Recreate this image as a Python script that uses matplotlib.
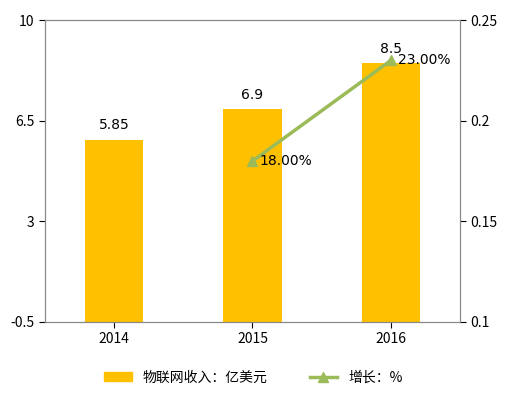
import matplotlib
matplotlib.use("Agg")
import matplotlib.pyplot as plt
plt.rcParams['font.family'] = ['Noto Sans CJK SC', 'DejaVu Sans']

years = ['2014', '2015', '2016']
revenue = [5.85, 6.9, 8.5]
growth_years = [1, 2]
growth = [0.18, 0.23]
growth_labels = ['18.00%', '23.00%']
baseline = -0.5

fig = plt.figure(figsize=(5.07, 4.05), dpi=100)
ax = fig.add_axes([0.089, 0.205, 0.818, 0.745])
x = range(len(years))
ax.bar(x, [v - baseline for v in revenue], bottom=baseline, width=0.42, color='#FFC000', zorder=2)
ax.set_ylim(-0.5, 10)
ax.set_yticks([-0.5, 3, 6.5, 10])
ax.set_yticklabels(['-0.5', '3', '6.5', '10'])
ax.set_xlim(-0.5, 2.5)
ax.set_xticks(list(x))
ax.set_xticklabels(years)
for i, v in enumerate(revenue):
    ax.text(i, v + 0.25, f'{v:g}', ha='center', va='bottom', fontsize=10, family='DejaVu Sans')
ax2 = ax.twinx()
ax2.plot(growth_years, growth, color='#9BBB59', lw=2.5, marker='^', ms=7, label='增长：%')
ax2.set_ylim(0.1, 0.25)
ax2.set_yticks([0.1, 0.15, 0.2, 0.25])
ax2.set_yticklabels(['0.1', '0.15', '0.2', '0.25'])
for xi, g, l in zip(growth_years, growth, growth_labels):
    ax2.text(xi + 0.05, g, l, ha='left', va='center', fontsize=10, family='DejaVu Sans')
for a in (ax, ax2):
    a.tick_params(labelsize=10, length=4, direction='out')
    for s in a.spines.values():
        s.set_color('#888888')
from matplotlib.patches import Patch
from matplotlib.lines import Line2D
h = [Patch(color='#FFC000', label='物联网收入：亿美元'),
     Line2D([0], [0], color='#9BBB59', lw=2.5, marker='^', ms=7, label='增长：%')]
fig.legend(handles=h, loc='lower center', ncol=2, frameon=False, fontsize=10,
           bbox_to_anchor=(0.5, 0.02), columnspacing=3)
fig.savefig('out.png', dpi=100)
